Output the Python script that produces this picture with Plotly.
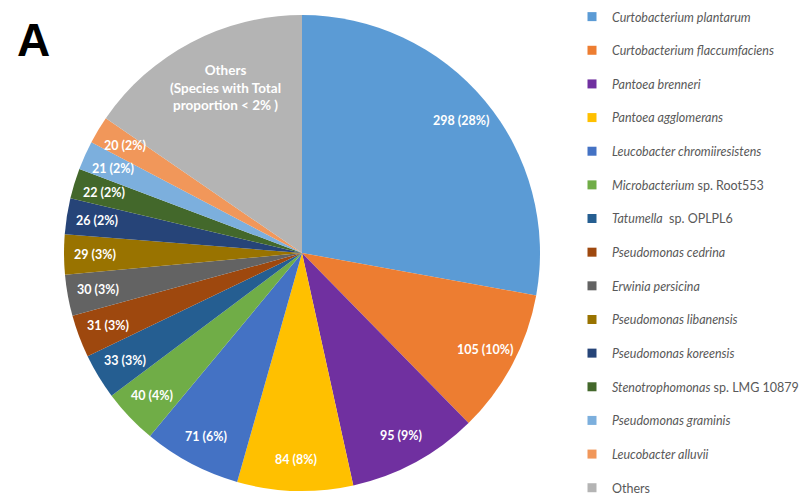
import math
import plotly.graph_objects as go

# Species read counts (Others = species each below 2 % of total)
species = [
    "<i>Curtobacterium plantarum</i>",
    "<i>Curtobacterium flaccumfaciens</i>",
    "<i>Pantoea brenneri</i>",
    "<i>Pantoea agglomerans</i>",
    "<i>Leucobacter chromiiresistens</i>",
    "<i>Microbacterium</i> sp. Root553",
    "<i>Tatumella</i>  sp. OPLPL6",
    "<i>Pseudomonas cedrina</i>",
    "<i>Erwinia persicina</i>",
    "<i>Pseudomonas libanensis</i>",
    "<i>Pseudomonas koreensis</i>",
    "<i>Stenotrophomonas</i> sp. LMG 10879",
    "<i>Pseudomonas graminis</i>",
    "<i>Leucobacter alluvii</i>",
    "Others",
]
counts = [298, 105, 95, 84, 71, 40, 33, 31, 30, 29, 26, 22, 21, 20, 165]
percent_labels = ["28%", "10%", "9%", "8%", "6%", "4%", "3%", "3%", "3%", "3%",
                  "2%", "2%", "2%", "2%", None]
others_text = "Others<br>(Species with Total<br>proportion < 2% )"

colors = ["#5B9BD5", "#ED7D31", "#7030A0", "#FFC000", "#4472C4", "#70AD47",
          "#255E91", "#9E480E", "#636363", "#997300", "#264478", "#43682B",
          "#7CAFDD", "#F1975A", "#B4B4B4"]

W, H = 805, 501
cx_px, cy_px, r_px = 302, 253, 238          # pie centre / radius in pixels
dom_x = [(cx_px - r_px) / W, (cx_px + r_px) / W]
dom_y = [(H - cy_px - r_px) / H, (H - cy_px + r_px) / H]

fig = go.Figure()
fig.add_trace(go.Pie(
    labels=[s for s in species],
    values=counts,
    marker=dict(colors=colors, line=dict(width=0)),
    sort=False,
    direction="clockwise",
    rotation=0,
    textinfo="none",
    showlegend=False,
    domain=dict(x=dom_x, y=dom_y),
    hovertemplate="%{label}: %{value}<extra></extra>",
))

# Slice labels placed along each slice's bisector
total = sum(counts)
cum = 0
cxp = cx_px / W
cyp = 1 - cy_px / H
for v, p, in zip(counts, percent_labels):
    mid = (cum + v / 2) / total * 2 * math.pi
    cum += v
    if p is None:
        rf, txt, fs = 0.765, others_text, 13.5
        mid += math.radians(3)
    else:
        rf, txt, fs = 0.87, f"{v} ({p})", 12.5
    fig.add_annotation(
        x=cxp + rf * r_px * math.sin(mid) / W,
        y=cyp + rf * r_px * math.cos(mid) / H,
        xref="paper", yref="paper", xanchor="center", yanchor="middle",
        text=txt, showarrow=False,
        font=dict(family="Lato", size=fs, color="white", weight="bold"),
        align="center",
    )

# Legend entries, one group per species for even spacing
for name, col in zip(species, colors):
    fig.add_trace(go.Scatter(
        x=[None], y=[None], mode="markers", name=name, legendgroup=name,
        marker=dict(symbol="square", size=9, color=col),
        hoverinfo="skip",
    ))

fig.add_annotation(
    x=15 / W, y=1 - 12 / H, xref="paper", yref="paper", xanchor="left", yanchor="top",
    text="<b>A</b>", showarrow=False,
    font=dict(family="Liberation Sans", size=46, color="black"),
)

fig.update_layout(
    width=W, height=H,
    margin=dict(l=0, r=0, t=0, b=0, autoexpand=False),
    paper_bgcolor="white", plot_bgcolor="white",
    xaxis=dict(visible=False), yaxis=dict(visible=False),
    legend=dict(
        x=572 / W, xanchor="left", y=1 - 2 / H, yanchor="top",
        traceorder="grouped", tracegroupgap=14.4, itemwidth=30,
        font=dict(family="Lato", size=12.5, color="#595959"),
        bgcolor="rgba(0,0,0,0)",
    ),
)

fig.write_html("out.html")
